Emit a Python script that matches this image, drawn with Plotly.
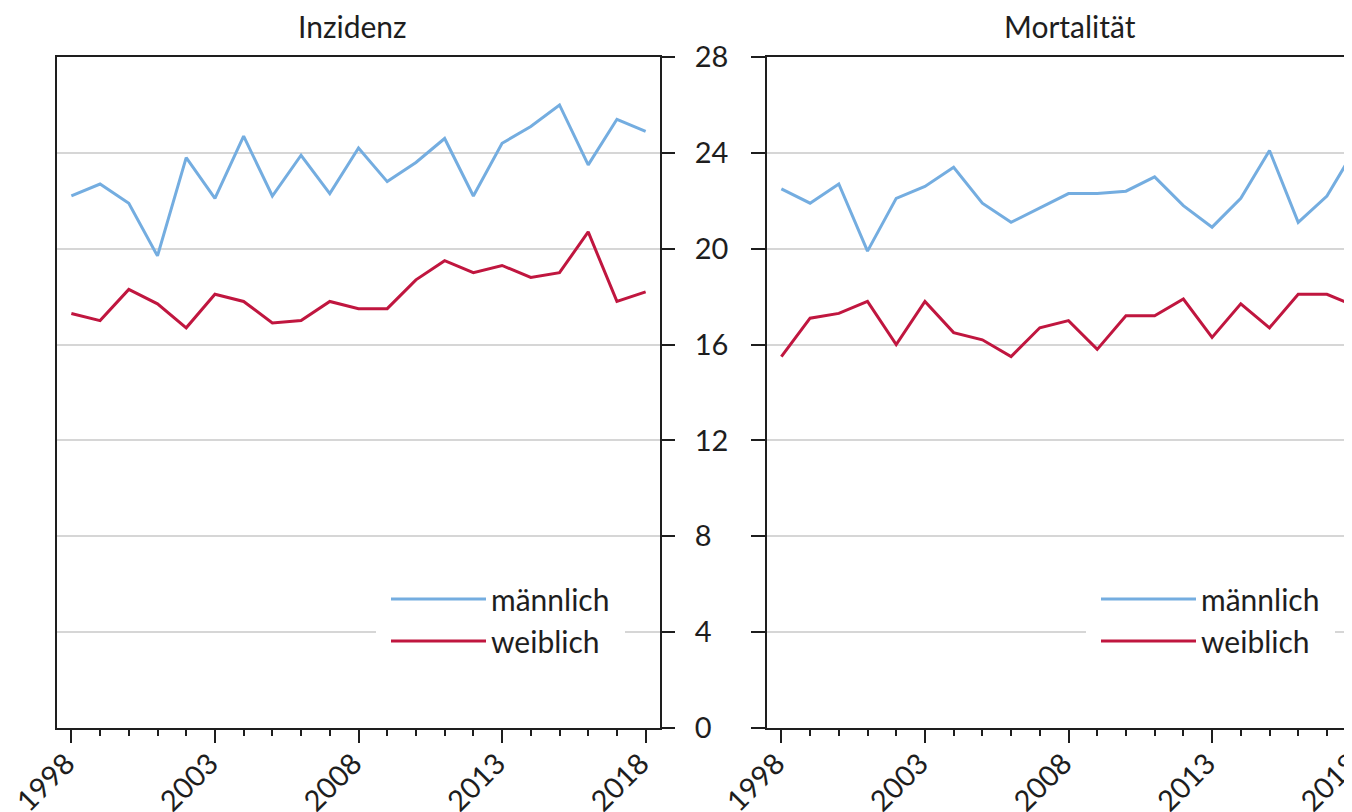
import plotly.graph_objects as go

years = list(range(1998, 2019))
tick_years = [1998, 2003, 2008, 2013, 2018]
tick_text = ["1998", "2003", "2008", "2013", "2018"]
y_ticks = [0, 4, 8, 12, 16, 20, 24, 28]
y_text = ["0", "4", "8", "12", "16", "20", "24", "28"]

inz_m = [22.2, 22.7, 21.9, 19.7, 23.8, 22.1, 24.7, 22.2, 23.9, 22.3, 24.2,
         22.8, 23.6, 24.6, 22.2, 24.4, 25.1, 26.0, 23.5, 25.4, 24.9]
inz_w = [17.3, 17.0, 18.3, 17.7, 16.7, 18.1, 17.8, 16.9, 17.0, 17.8, 17.5,
         17.5, 18.7, 19.5, 19.0, 19.3, 18.8, 19.0, 20.7, 17.8, 18.2]
mort_m = [22.5, 21.9, 22.7, 19.9, 22.1, 22.6, 23.4, 21.9, 21.1, 21.7, 22.3,
          22.3, 22.4, 23.0, 21.8, 20.9, 22.1, 24.1, 21.1, 22.2, 24.2]
mort_w = [15.5, 17.1, 17.3, 17.8, 16.0, 17.8, 16.5, 16.2, 15.5, 16.7, 17.0,
          15.8, 17.2, 17.2, 17.9, 16.3, 17.7, 16.7, 18.1, 18.1, 17.6]

panel_titles = ["Inzidenz", "Mortalität"]
series_names = ["männlich", "weiblich"]

BLUE = "#74ade0"
RED = "#c0163f"
INK = "#1e1e1e"
GRID = "#d6d6d6"
FONT = "Lato"
W, H = 1352, 812

# plot-area geometry in figure pixels
L1, R1 = 49, 652          # left panel
L2 = 759                  # right panel (continues past the window edge)
TOP, BOT = 49, 720
PX_PER_YEAR = (R1 - L1) / 21.0

fig = go.Figure()
for name, vals, col in [(series_names[0], inz_m, BLUE), (series_names[1], inz_w, RED)]:
    fig.add_trace(go.Scatter(x=years, y=vals, name=name, mode="lines",
                             line=dict(color=col, width=3),
                             xaxis="x", yaxis="y", legend="legend"))
for name, vals, col in [(series_names[0], mort_m, BLUE), (series_names[1], mort_w, RED)]:
    fig.add_trace(go.Scatter(x=years, y=vals, name=name, mode="lines",
                             line=dict(color=col, width=3),
                             xaxis="x2", yaxis="y2", legend="legend2"))

xcommon = dict(tickvals=tick_years, ticktext=tick_text, tickangle=-45,
               ticks="outside", ticklen=13, tickwidth=2, tickcolor=INK,
               minor=dict(ticks="outside", dtick=1, tick0=1998, ticklen=6,
                          tickwidth=2, tickcolor=INK, showgrid=False),
               showline=True, linewidth=2, linecolor=INK, mirror=True,
               showgrid=False, zeroline=False, automargin=False,
               ticklabeloverflow="allow", ticklabelstandoff=-8, ticklabelshift=-5,
               tickfont=dict(family=FONT, size=29, color=INK))
ycommon = dict(range=[0, 28], tickvals=y_ticks, ticktext=y_text,
               ticks="outside", tickwidth=2, tickcolor=INK,
               showline=True, linewidth=2, linecolor=INK, automargin=False,
               showgrid=True, gridcolor=GRID, gridwidth=2, zeroline=False,
               tickfont=dict(family=FONT, size=29, color=INK))

x2_end = 1997.5 + (W - L2) / PX_PER_YEAR
ph = BOT - TOP

LEG_X = 368
LEG_TOP = 555
leg_common = dict(xanchor="left", y=(BOT - LEG_TOP) / ph, yanchor="top",
                  bgcolor="white", bordercolor="white", borderwidth=10, itemwidth=95,
                  font=dict(family=FONT, size=30, color=INK))

fig.update_layout(
    width=W, height=H,
    margin=dict(l=0, r=0, t=TOP, b=H - BOT),
    paper_bgcolor="white", plot_bgcolor="white",
    font=dict(family=FONT, color=INK),
    xaxis=dict(domain=[L1 / W, R1 / W], range=[1997.5, 2018.5], anchor="y", **xcommon),
    yaxis=dict(domain=[0, 1], anchor="x", side="right", mirror=True, ticklen=13,
               ticklabelstandoff=14, **ycommon),
    xaxis2=dict(domain=[L2 / W, 1.0], range=[1997.5, x2_end], anchor="y2", **xcommon),
    yaxis2=dict(domain=[0, 1], anchor="x2", side="left", mirror=False, ticklen=14,
                showticklabels=False, **ycommon),
    legend=dict(x=LEG_X / W, **leg_common),
    legend2=dict(x=(LEG_X + (L2 - L1)) / W, **leg_common),
    showlegend=True,
)

title_y = 1 + (TOP - 18) / ph
fig.add_annotation(text=panel_titles[0], xref="paper", yref="paper",
                   x=344.5 / W, y=title_y, xanchor="center", yanchor="middle",
                   showarrow=False, font=dict(family=FONT, size=30, color=INK))
fig.add_annotation(text=panel_titles[1], xref="paper", yref="paper",
                   x=1061.5 / W, y=title_y, xanchor="center", yanchor="middle",
                   showarrow=False, font=dict(family=FONT, size=30, color=INK))

fig.write_html("out.html")
